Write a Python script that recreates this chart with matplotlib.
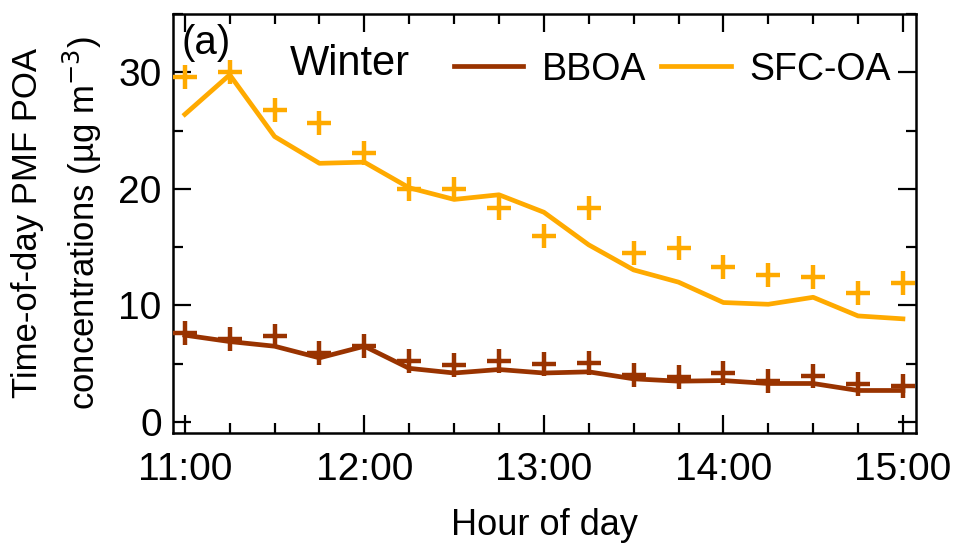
import matplotlib
matplotlib.use("Agg")
import matplotlib.pyplot as plt
from matplotlib.ticker import MultipleLocator, FixedLocator

plt.rcParams['font.family'] = ['Liberation Sans', 'DejaVu Sans']

hours = [11.0, 11.25, 11.5, 11.75, 12.0, 12.25, 12.5, 12.75, 13.0,
         13.25, 13.5, 13.75, 14.0, 14.25, 14.5, 14.75, 15.0]
tick_hours = [11, 12, 13, 14, 15]
tick_labels = ["11:00", "12:00", "13:00", "14:00", "15:00"]

sfc_line = [26.4, 29.8, 24.5, 22.2, 22.3, 20.1, 19.1, 19.5, 18.0,
            15.2, 13.05, 12.0, 10.25, 10.1, 10.7, 9.1, 8.85]
sfc_mark = [29.6, 30.0, 26.8, 25.7, 23.1, 20.0, 20.0, 18.4, 16.0,
            18.4, 14.5, 14.9, 13.3, 12.6, 12.4, 11.1, 11.9]
bboa_line = [7.45, 6.9, 6.5, 5.5, 6.5, 4.6, 4.2, 4.5, 4.2,
             4.3, 3.7, 3.5, 3.55, 3.3, 3.3, 2.7, 2.7]
bboa_mark = [7.6, 7.1, 7.4, 5.9, 6.5, 5.2, 4.9, 5.2, 5.0,
             5.1, 4.0, 3.9, 4.2, 3.55, 3.95, 3.26, 3.1]

c_bboa = '#993300'
c_sfc = '#FFAA00'

fig = plt.figure(figsize=(9.6, 5.45), dpi=100)
ax = fig.add_axes([0.180, 0.2055, 0.774, 0.7695])

ax.plot(hours, bboa_line, color=c_bboa, lw=3.4, label='BBOA', zorder=3)
ax.plot(hours, sfc_line, color=c_sfc, lw=3.4, label='SFC-OA', zorder=3)
ax.plot(hours, bboa_mark, ls='none', marker='+', ms=17, mew=3.2, color=c_bboa, zorder=4)
ax.plot(hours, sfc_mark, ls='none', marker='+', ms=17, mew=3.2, color=c_sfc, zorder=4)

ax.set_xlim(10.933, 15.072)
ax.set_ylim(-0.95, 35.05)
ax.xaxis.set_major_locator(FixedLocator(tick_hours))
ax.set_xticklabels(tick_labels)
ax.xaxis.set_minor_locator(MultipleLocator(0.25))
ax.yaxis.set_major_locator(MultipleLocator(10))
ax.yaxis.set_minor_locator(MultipleLocator(5))

ax.tick_params(which='both', direction='in', top=True, right=True, width=1.6,
               labelsize=28, color='black')
ax.tick_params(which='major', length=13, pad=8)
ax.tick_params(axis='x', which='major', pad=14)
ax.tick_params(which='minor', length=7)
for s in ax.spines.values():
    s.set_linewidth(1.8)

ax.set_xlabel('Hour of day', fontsize=26, labelpad=14)
ax.set_ylabel('Time-of-day PMF POA\nconcentrations (µg m$^{-3}$)', fontsize=25,
              linespacing=1.5, labelpad=10)

ax.text(0.012, 0.975, '(a)', transform=ax.transAxes, fontsize=29, va='top', ha='left')
ax.text(0.158, 0.88, 'Winter', transform=ax.transAxes, fontsize=30, va='center', ha='left')

leg = ax.legend(loc='upper right', bbox_to_anchor=(1.002, 0.972), ncol=2, frameon=False,
                fontsize=27, handlelength=1.85, handletextpad=0.5, columnspacing=0.4,
                borderaxespad=0.3)

fig.savefig('out.png', dpi=100)
